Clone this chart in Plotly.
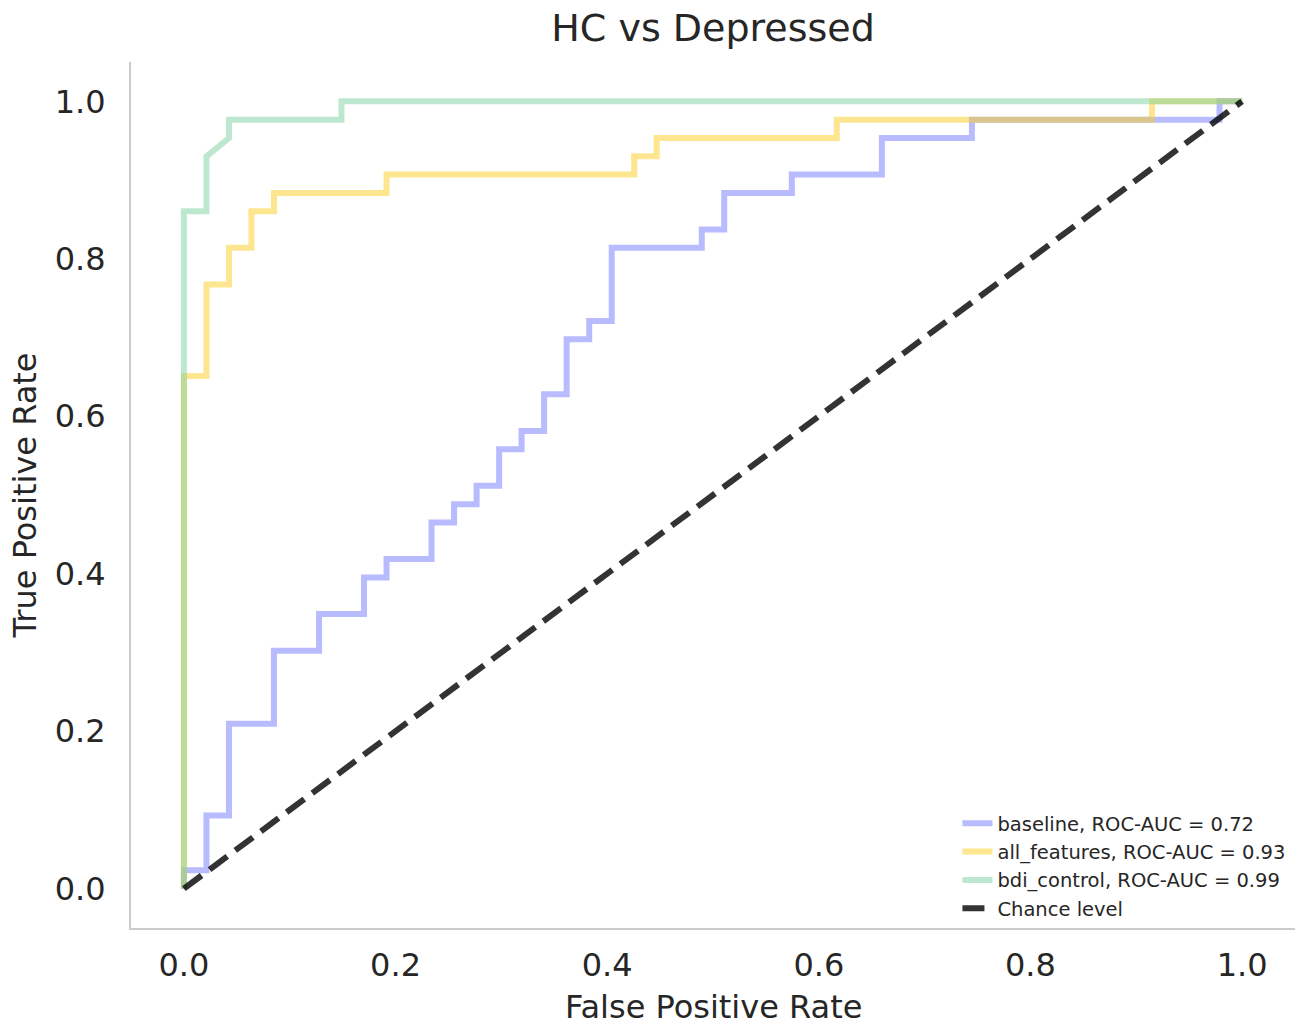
import plotly.graph_objects as go

# ---- data ----
baseline_fpr = [0.0, 0.0, 0.0213, 0.0213, 0.0426, 0.0426, 0.0851, 0.0851, 0.1277, 0.1277,
                0.1702, 0.1702, 0.1915, 0.1915, 0.2340, 0.2340, 0.2553, 0.2553, 0.2766, 0.2766,
                0.2979, 0.2979, 0.3191, 0.3191, 0.3404, 0.3404, 0.3617, 0.3617, 0.3830, 0.3830,
                0.4043, 0.4043, 0.4894, 0.4894, 0.5106, 0.5106, 0.5745, 0.5745, 0.6596, 0.6596,
                0.7447, 0.7447, 0.9787, 0.9787, 1.0]
baseline_tpr = [0.0, 0.0233, 0.0233, 0.0930, 0.0930, 0.2093, 0.2093, 0.3023, 0.3023, 0.3488,
                0.3488, 0.3953, 0.3953, 0.4186, 0.4186, 0.4651, 0.4651, 0.4884, 0.4884, 0.5116,
                0.5116, 0.5581, 0.5581, 0.5814, 0.5814, 0.6279, 0.6279, 0.6977, 0.6977, 0.7209,
                0.7209, 0.8140, 0.8140, 0.8372, 0.8372, 0.8837, 0.8837, 0.9070, 0.9070, 0.9535,
                0.9535, 0.9767, 0.9767, 1.0, 1.0]

allfeat_fpr = [0.0, 0.0, 0.0213, 0.0213, 0.0426, 0.0426, 0.0638, 0.0638, 0.0851, 0.0851,
               0.1915, 0.1915, 0.4255, 0.4255, 0.4468, 0.4468, 0.6170, 0.6170, 0.9149, 0.9149, 1.0]
allfeat_tpr = [0.0, 0.6512, 0.6512, 0.7674, 0.7674, 0.8140, 0.8140, 0.8605, 0.8605, 0.8837,
               0.8837, 0.9070, 0.9070, 0.9302, 0.9302, 0.9535, 0.9535, 0.9767, 0.9767, 1.0, 1.0]

bdi_fpr = [0.0, 0.0, 0.0213, 0.0213, 0.0426, 0.0426, 0.1489, 0.1489, 1.0]
bdi_tpr = [0.0, 0.8605, 0.8605, 0.9302, 0.9535, 0.9767, 0.9767, 1.0, 1.0]

chance_x = [0.0, 1.0]
chance_y = [0.0, 1.0]

series_names = ["baseline, ROC-AUC = 0.72",
                "all_features, ROC-AUC = 0.93",
                "bdi_control, ROC-AUC = 0.99",
                "Chance level"]

tick_vals = [0.0, 0.2, 0.4, 0.6, 0.8, 1.0]
tick_text = ["0.0", "0.2", "0.4", "0.6", "0.8", "1.0"]

x_label = "False Positive Rate"
y_label = "True Positive Rate"
title_text = "HC vs Depressed"

TEXT = "#262626"
FONT = "DejaVu Sans"
LW = 6

fig = go.Figure()
fig.add_trace(go.Scatter(x=baseline_fpr, y=baseline_tpr, mode="lines", name=series_names[0],
                         legendgroup="a",
                         line=dict(color="rgba(113,121,255,0.5)", width=LW)))
fig.add_trace(go.Scatter(x=allfeat_fpr, y=allfeat_tpr, mode="lines", name=series_names[1],
                         legendgroup="b",
                         line=dict(color="rgba(251,205,31,0.5)", width=LW)))
fig.add_trace(go.Scatter(x=bdi_fpr, y=bdi_tpr, mode="lines", name=series_names[2],
                         legendgroup="c",
                         line=dict(color="rgba(123,209,159,0.5)", width=LW)))
fig.add_trace(go.Scatter(x=chance_x, y=chance_y, mode="lines", name=series_names[3],
                         legendgroup="d",
                         line=dict(color="rgba(0,0,0,0.8)", width=6, dash="22px,10px")))

axis_common = dict(
    showgrid=False, zeroline=False, showline=True, linecolor="#cccccc", linewidth=2,
    ticks="", tickfont=dict(family=FONT, size=32, color=TEXT),
    tickvals=tick_vals, ticktext=tick_text, range=[-0.05, 1.05], automargin=False,
)

fig.update_layout(
    width=1299, height=1024,
    margin=dict(l=131, r=4, t=62, b=96),
    paper_bgcolor="white", plot_bgcolor="white",
    font=dict(family=FONT, color=TEXT),
    title=dict(text=title_text, x=0.5, xref="paper", xanchor="center",
               y=0.973, yref="container", yanchor="middle", automargin=False,
               font=dict(family=FONT, size=38, color=TEXT)),
    xaxis=dict(**axis_common, ticklabelstandoff=8),
    yaxis=dict(**axis_common, ticklabelstandoff=17,
               title=dict(text=y_label, standoff=9,
                          font=dict(family=FONT, size=32, color=TEXT))),
    showlegend=True,
    legend=dict(x=0.710, xanchor="left", y=0.0, yanchor="bottom",
                bgcolor="rgba(255,255,255,0)", borderwidth=0,
                font=dict(family=FONT, size=19.5, color=TEXT),
                traceorder="grouped", tracegroupgap=0),
)

# x-axis title as an annotation so it can sit lower than the margin limit allows
fig.add_annotation(text=x_label, xref="paper", yref="paper", x=0.5, y=-0.0912,
                   xanchor="center", yanchor="middle", showarrow=False,
                   font=dict(family=FONT, size=32, color=TEXT))

fig.write_html("out.html", config={"displayModeBar": False},
               post_script="document.body.style.margin='0';document.body.style.overflow='hidden';")
